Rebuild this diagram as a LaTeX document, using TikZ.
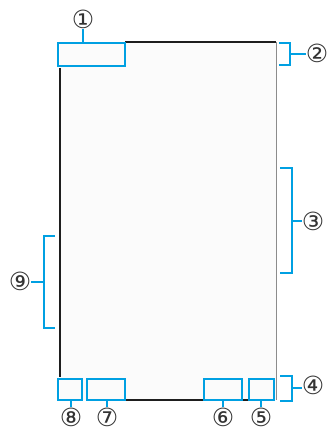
\documentclass[tikz,border=0pt]{standalone}
\usepackage{fontspec}
\newfontfamily\circfont{DejaVu Sans}
\definecolor{calloutblue}{RGB}{0,160,226}
\definecolor{screenbg}{RGB}{251,251,251}
\definecolor{frameline}{RGB}{30,30,30}
\definecolor{sideline}{RGB}{140,140,140}
\begin{document}
\begin{tikzpicture}[x=1pt,y=-1pt,
  callout/.style={draw=calloutblue, line width=2.2pt},
  hbox/.style={callout, rectangle, inner sep=0pt, minimum width=#1, minimum height=21pt},
  num/.style={inner sep=0pt, font=\circfont\fontsize{25}{25}\selectfont, text=black!80}]
\useasboundingbox (0,0) rectangle (328,432);
% screen
\fill[screenbg] (60,42) rectangle (276,400);
\draw[frameline, line width=2pt] (125,42) -- (276,42);
\draw[frameline, line width=1.4pt] (60,68) -- (60,377);
\draw[sideline, line width=0.9pt] (276,42) -- (276,400);
\draw[frameline, line width=1.6pt] (125,400) -- (204,400);
\draw[frameline, line width=1.6pt] (242,400) -- (249,400);
% boxes
\node[hbox=67pt, minimum height=23pt] (b1) at (91.5,54.5) {};
\node[hbox=24pt] (b8) at (70,389.5) {};
\node[hbox=38pt] (b7) at (106,389.5) {};
\node[hbox=38pt] (b6) at (223,389.5) {};
\node[hbox=25pt] (b5) at (261.5,389.5) {};
% labels
\node[num] (n1) at (83,19) {①};
\node[num] (n2) at (317,53) {②};
\node[num] (n3) at (313,221) {③};
\node[num] (n4) at (313,385) {④};
\node[num] (n5) at (261,417) {⑤};
\node[num] (n6) at (223,417) {⑥};
\node[num] (n7) at (107,417) {⑦};
\node[num] (n8) at (71,417) {⑧};
\node[num] (n9) at (20,281) {⑨};
% ticks
\draw[callout] (n1.south) -- (n1.south |- b1.north);
\draw[callout] (n8.north) -- (n8.north |- b8.south);
\draw[callout] (n7.north) -- (n7.north |- b7.south);
\draw[callout] (n6.north) -- (n6.north |- b6.south);
\draw[callout] (n5.north) -- (n5.north |- b5.south);
% brackets
\coordinate (k2) at (290,54);
\draw[callout] (279,43) -- (290,43) -- (290,65) -- (279,65);
\draw[callout] (k2) -- (n2.west |- k2);
\coordinate (k3) at (292,221);
\draw[callout] (280,168) -- (292,168) -- (292,273) -- (280,273);
\draw[callout] (k3) -- (n3.west |- k3);
\coordinate (k4) at (292,388);
\draw[callout] (280,376) -- (292,376) -- (292,401) -- (280,401);
\draw[callout] (k4) -- (n4.west |- k4);
\coordinate (k9) at (44,282);
\draw[callout] (55,236) -- (44,236) -- (44,328) -- (55,328);
\draw[callout] (k9) -- (n9.east |- k9);
\end{tikzpicture}
\end{document}
